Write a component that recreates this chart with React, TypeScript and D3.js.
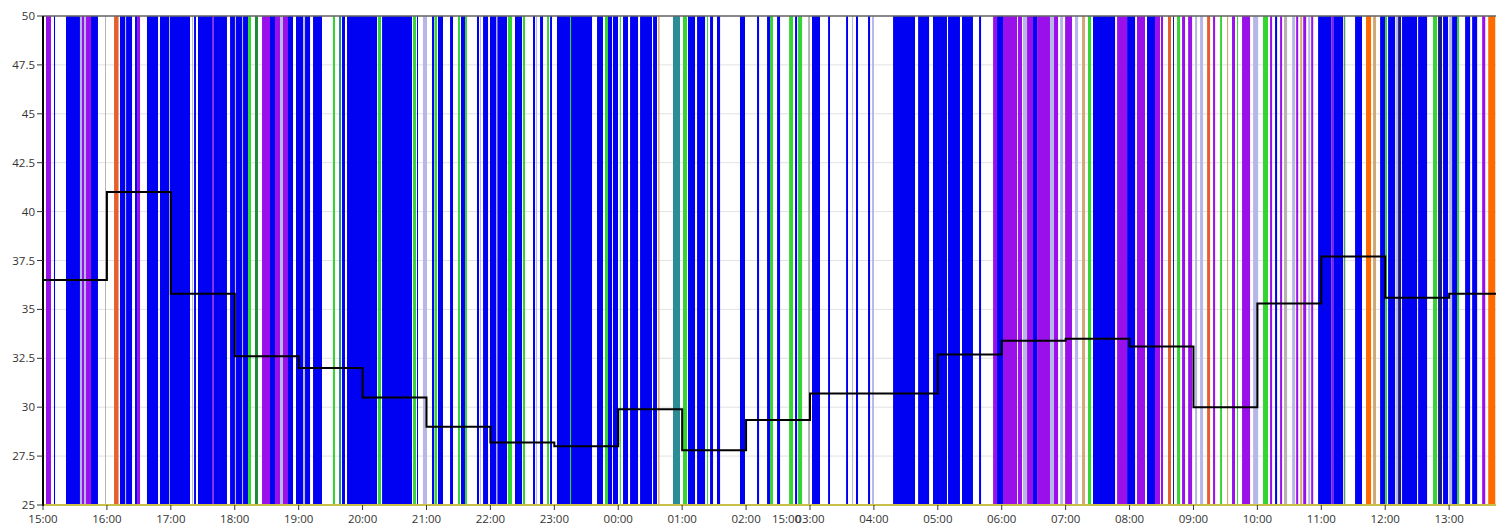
import React, { useEffect } from "react";
import * as d3 from "d3";

// minutes after 15:00 (start, end, state)
const bars: [number, number, string][] = [
  [2.8, 7.5, "P"], [10.3, 11.3, "B"], [21.6, 34.7, "B"], [34.7, 36.6, "L"], [36.6, 38.5, "P"],
  [38.5, 40.4, "L"], [40.4, 45.1, "P"], [45.1, 51.6, "B"], [58.2, 59.1, "K"], [66.7, 70.9, "R"],
  [72.3, 77, "B"], [77, 78, "L"], [78, 83.6, "B"], [86.4, 88.3, "B"], [88.3, 91.1, "P"],
  [97.6, 108, "B"], [109.8, 118.3, "B"], [118.3, 119.2, "L"], [119.2, 138, "B"], [139.9, 140.8, "L"],
  [141.8, 143.6, "B"], [145.5, 158.7, "B"], [158.7, 160.1, "P"], [160.1, 172.7, "B"], [175.6, 180.2, "B"],
  [180.2, 181.2, "L"], [181.2, 186.8, "B"], [186.8, 187.8, "L"], [187.8, 192.5, "B"], [192.5, 195.3, "G"],
  [199, 201.8, "DG"], [205.6, 213.1, "P"], [213.1, 217.8, "B"], [217.8, 222.5, "P"], [222.5, 225.3, "L"],
  [225.3, 230, "P"], [230, 234.7, "B"], [237.5, 244.1, "B"], [244.1, 246, "L"], [246, 250.7, "B"],
  [253.5, 261.9, "B"], [272.2, 274.1, "G"], [277.9, 279.8, "T"], [280.7, 283.5, "B"], [285.4, 313.6, "B"],
  [314.5, 317.3, "G"], [318.3, 346.4, "B"], [347.4, 350.2, "G"], [351.1, 352, "B"], [356.7, 360.5, "L"],
  [365.2, 367.1, "B"], [367.5, 369.9, "G"], [370.8, 375.5, "B"], [382.1, 384.9, "B"], [389.6, 391.5, "G"],
  [392.4, 396.2, "B"], [396.2, 398, "G"], [407.4, 409.3, "B"], [410.2, 411.2, "L"], [413.1, 417.8, "B"],
  [419.6, 425.6, "B"], [425.6, 426.6, "L"], [426.6, 435.6, "B"], [436.5, 440.3, "G"], [443.1, 449.7, "B"],
  [450.6, 452.5, "G"], [460, 461.9, "B"], [462.8, 463.8, "L"], [466.6, 469.4, "B"], [473.2, 475, "G"],
  [476, 477.8, "B"], [482.5, 494.7, "B"], [494.7, 495.7, "G"], [495.7, 515.4, "B"], [520.1, 525.7, "B"],
  [527.6, 530.4, "G"], [530.4, 534.2, "B"], [535.1, 539.8, "B"], [541.5, 542.5, "G"], [544.5, 549.2, "B"],
  [551.1, 558.6, "B"], [560.5, 571.7, "B"], [572.7, 576.4, "B"], [577.4, 578.8, "N"], [591.4, 598, "T"],
  [600.8, 604.6, "G"], [605.5, 612.1, "B"], [614, 621.5, "B"], [623.4, 624.3, "G"], [626.2, 629, "B"],
  [632.7, 635.6, "B"], [654.3, 659, "B"], [670.3, 672.2, "B"], [679.7, 682.5, "B"], [682.5, 685.3, "G"],
  [689.1, 691.9, "B"], [700.4, 704.1, "G"], [706, 707.9, "B"], [708.8, 712.6, "G"], [718.2, 720.1, "K"],
  [721.9, 729.4, "B"], [737, 738.8, "B"], [753.9, 755.7, "B"], [759.5, 760.4, "L"], [763.2, 765.1, "B"],
  [774.5, 776.4, "B"], [778.3, 780.1, "L"], [798, 818.6, "B"], [821.5, 831.8, "B"], [835.5, 848.6, "B"],
  [849.6, 860.8, "B"], [862.7, 873, "B"], [878.7, 880.6, "B"], [891.9, 895.6, "P"], [895.6, 901.2, "B"],
  [901.2, 914.4, "P"], [915.3, 919.1, "P"], [920, 923.8, "L"], [923.8, 929.4, "P"], [929.4, 933.2, "B"],
  [933.2, 945.4, "P"], [945.4, 949.1, "L"], [949.1, 952.9, "P"], [954.8, 957.6, "L"], [959.5, 966, "P"],
  [968.8, 971.7, "L"], [975.4, 978.2, "N"], [981, 983.9, "G"], [985.7, 1006.4, "B"], [1008.3, 1017.7, "P"],
  [1017.7, 1025.2, "B"], [1027, 1034.5, "P"], [1036.4, 1043.9, "B"], [1043.9, 1048.6, "P"], [1049.5, 1051.4, "P"],
  [1056.1, 1058.9, "R"], [1060.8, 1061.7, "D"], [1064.6, 1067.4, "G"], [1069.3, 1072.1, "P"], [1075, 1078.7, "P"],
  [1081.5, 1083.4, "L"], [1086.2, 1089, "L"], [1092.8, 1095.6, "R"], [1098.4, 1100.3, "P"], [1105, 1106.8, "G"],
  [1111.5, 1112.5, "N"], [1116.2, 1119, "P"], [1120.9, 1121.8, "G"], [1125.6, 1133.1, "P"], [1136, 1140.7, "L"],
  [1145.3, 1150, "G"], [1151.9, 1153.8, "P"], [1156.6, 1158.5, "B"], [1161.3, 1163.2, "P"], [1165, 1167.9, "K"],
  [1172.6, 1175.4, "L"], [1176.4, 1178.3, "P"], [1180.2, 1182, "N"], [1183, 1185.8, "P"], [1187.7, 1189.6, "L"],
  [1190.5, 1192.4, "P"], [1197, 1209.4, "B"], [1209.4, 1211.3, "P"], [1211.3, 1220.5, "B"], [1221.5, 1222.4, "DG"],
  [1231.7, 1238.2, "B"], [1242, 1246.7, "O"], [1248.6, 1251.4, "N"], [1255.2, 1259.9, "B"], [1259.9, 1261.7, "G"],
  [1262.7, 1269.3, "B"], [1270.2, 1272.1, "L"], [1272.1, 1274.9, "D"], [1275.8, 1289.9, "B"], [1290.9, 1299.3, "B"],
  [1304.9, 1308.6, "G"], [1309.6, 1313.3, "D"], [1314.3, 1319, "B"], [1320, 1322.8, "L"], [1322.8, 1327.4, "B"],
  [1327.4, 1329.3, "G"], [1335, 1339.7, "B"], [1341.6, 1346.3, "B"], [1351, 1353.9, "P"], [1356.7, 1363.3, "O"],
];

const stateColors: Record<string, string> = {
  B: "#0000f2", P: "#9a10ea", G: "#33d433", DG: "#1f8a3a", R: "#e5602e", O: "#ff6a00",
  L: "#b6b6e8", T: "#2b8c96", D: "#1a1a86", K: "#b4b4b4", N: "#d2a774",
};

// hourly averages, each hour starting at 15:00
const hourlyValues = [36.5, 41, 35.8, 32.6, 32.0, 30.5, 29.0, 28.2, 28.0, 29.9, 27.8, 29.35, 30.7, 30.7, 32.7, 33.4, 33.5, 33.1, 30.0, 35.3, 37.7, 35.6, 35.8];

const hourLabels = ["15:00", "16:00", "17:00", "18:00", "19:00", "20:00", "21:00", "22:00", "23:00", "00:00", "01:00", "02:00", "03:00", "04:00", "05:00", "06:00", "07:00", "08:00", "09:00", "10:00", "11:00", "12:00", "13:00"];
const extraLabel = { minute: 698, label: "15:00" };
const yTicks = [25, 27.5, 30, 32.5, 35, 37.5, 40, 42.5, 45, 47.5, 50];
const endMinute = 1364;

export default function App() {
  useEffect(() => {
    document.body.style.margin = "0";
  }, []);
  const W = 1498, H = 526;
  const left = 43, right = 1496, top = 16, bottom = 505;
  const x = d3.scaleLinear().domain([0, endMinute]).range([left, right]);
  const y = d3.scaleLinear().domain([25, 50]).range([bottom, top]);

  const stepPts: [number, number][] = hourlyValues.map((v, i) => [i * 60, v]);
  stepPts.push([endMinute, hourlyValues[hourlyValues.length - 1]]);
  const line = d3.line<[number, number]>().x(d => x(d[0])).y(d => y(d[1])).curve(d3.curveStepAfter);

  const font = "'Open Sans', 'Noto Sans', sans-serif";
  return (
    <svg width={W} height={H} style={{ display: "block", background: "#fff" }}>
      {yTicks.map(t => (
        <line key={"g" + t} x1={left} x2={right} y1={y(t)} y2={y(t)} stroke="#e2e2e2" strokeWidth={1} />
      ))}
      {bars.map((b, i) => {
        const x0 = x(b[0]);
        const w = Math.max(1, x(b[1]) - x0);
        return <rect key={i} x={x0} y={top} width={w} height={bottom - top} fill={stateColors[b[2]]} />;
      })}
      <path d={line(stepPts) || ""} fill="none" stroke="#000" strokeWidth={2} />
      <line x1={left} x2={right} y1={top} y2={top} stroke="#666" strokeWidth={1.5} />
      <line x1={left} x2={right} y1={bottom} y2={bottom} stroke="#c8c046" strokeWidth={2} />
      <line x1={left} x2={left} y1={top} y2={bottom + 1} stroke="#000" strokeWidth={2} />
      {yTicks.map(t => (
        <g key={"y" + t}>
          <line x1={left - 6} x2={left} y1={y(t)} y2={y(t)} stroke="#333" strokeWidth={1} />
          <text x={left - 8} y={y(t)} dy="0.35em" textAnchor="end" fontSize={11.5} fontFamily={font} fill="#333">
            {d3.format("~g")(t)}
          </text>
        </g>
      ))}
      {hourLabels.map((l, i) => (
        <g key={"x" + i}>
          <line x1={x(i * 60)} x2={x(i * 60)} y1={bottom} y2={bottom + 5} stroke="#333" strokeWidth={1} />
          <text x={x(i * 60)} y={bottom + 18} textAnchor="middle" fontSize={11.5} fontFamily={font} fill="#333">{l}</text>
        </g>
      ))}
      <text x={x(extraLabel.minute)} y={bottom + 18} textAnchor="middle" fontSize={11.5} fontFamily={font} fill="#333">{extraLabel.label}</text>
    </svg>
  );
}
